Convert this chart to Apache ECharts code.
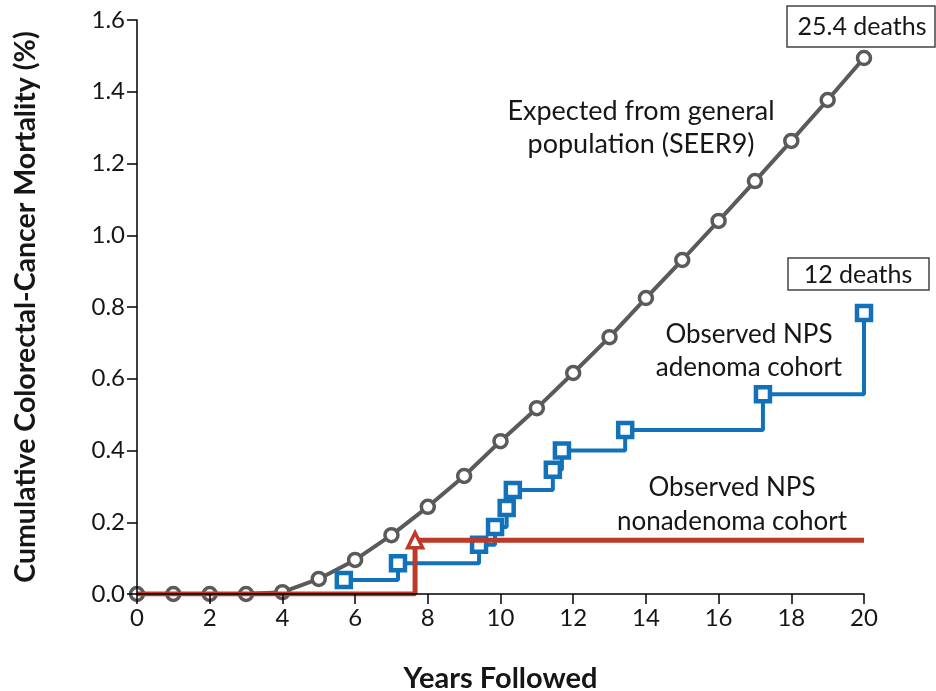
<!DOCTYPE html>
<html>
<head>
<meta charset="utf-8">
<script src="https://cdn.jsdelivr.net/npm/echarts@6/dist/echarts.min.js"></script>
<style>
html,body{margin:0;padding:0;background:#fff;}
#chart{width:936px;height:691px;}
</style>
</head>
<body>
<div id="chart"></div>
<script>
// ---- data ----
const expectedYears = [0,1,2,3,4,5,6,7,8,9,10,11,12,13,14,15,16,17,18,19,20];
const expectedMortality = [0,0,0,0,0.005,0.042,0.095,0.164,0.243,0.329,0.426,0.518,0.616,0.716,0.825,0.931,1.040,1.151,1.263,1.377,1.494];
const adenomaYears = [5.69,7.18,9.41,9.85,10.17,10.34,11.44,11.69,13.43,17.22,20];
const adenomaMortality = [0.039,0.086,0.137,0.187,0.24,0.29,0.346,0.40,0.457,0.557,0.783];
const nonadenomaYears = [0,7.65,20];
const nonadenomaMortality = [0,0.15,0.15];
const nonadenomaMarked = [false,true,false];
const xTicks = [0,2,4,6,8,10,12,14,16,18,20];
const yTicks = [0,0.2,0.4,0.6,0.8,1.0,1.2,1.4,1.6];
const labels = {
  expected: 'Expected from general\npopulation (SEER9)',
  adenoma: 'Observed NPS\nadenoma cohort',
  nonadenoma: 'Observed NPS\nnonadenoma cohort',
  expectedDeaths: '25.4 deaths',
  adenomaDeaths: '12 deaths'
};
const xName = 'Years Followed';
const yName = 'Cumulative Colorectal-Cancer Mortality (%)';

// ---- styles ----
const FONT = 'Lato, "Open Sans", sans-serif';
const GRAY = '#5a5a5a', BLUE = '#1272b9', RED = '#bd3a28', TXT = '#161616';

const chart = echarts.init(document.getElementById('chart'));
const zip = (xs, ys) => xs.map((x,i)=>[x, ys[i]]);

const option = {
  animation: false,
  backgroundColor: '#fff',
  grid: {left:137, right:72, top:20, bottom:97, containLabel:false, outerBoundsMode:'none'},
  xAxis: {
    type:'value', min:xTicks[0], max:xTicks[xTicks.length-1], interval:2,
    z: 6,
    name: xName, nameLocation:'middle', nameGap:70,
    nameTextStyle:{fontFamily:FONT, fontWeight:'bold', fontSize:29, color:TXT},
    axisLine:{show:true, lineStyle:{color:'#000', width:1.5}},
    axisTick:{show:true, length:10, lineStyle:{color:'#000', width:1.5}},
    axisLabel:{fontFamily:FONT, fontSize:24, color:TXT, margin:12},
    splitLine:{show:false}
  },
  yAxis: {
    type:'value', min:yTicks[0], max:yTicks[yTicks.length-1], interval:0.2,
    z: 6,
    name: yName, nameLocation:'middle', nameGap:97, nameRotate:90,
    nameTextStyle:{fontFamily:FONT, fontWeight:'bold', fontSize:28.5, color:TXT},
    axisLine:{show:true, lineStyle:{color:'#000', width:1.5}},
    axisTick:{show:true, length:10, lineStyle:{color:'#000', width:1.5}},
    axisLabel:{fontFamily:FONT, fontSize:24, color:TXT, margin:12, formatter:v=>v.toFixed(1)},
    splitLine:{show:false}
  },
  series: [
    {
      type:'line', name:'expected', data: zip(expectedYears, expectedMortality),
      symbol:'circle', symbolSize:13, z:2,
      lineStyle:{color:GRAY, width:4},
      itemStyle:{color:'#fff', borderColor:GRAY, borderWidth:3.5}
    },
    {
      type:'line', name:'adenoma', step:'end', z:3,
      data: zip(adenomaYears, adenomaMortality),
      symbol:'rect', symbolSize:14,
      lineStyle:{color:BLUE, width:4},
      itemStyle:{color:'#fff', borderColor:BLUE, borderWidth:4.5}
    },
    {
      type:'line', name:'nonadenoma', step:'end', z:4,
      data: zip(nonadenomaYears, nonadenomaMortality).map((p,i)=>({
        value:p, symbol: nonadenomaMarked[i] ? 'triangle' : 'none'
      })),
      symbolSize:15,
      lineStyle:{color:RED, width:5},
      itemStyle:{color:'#fff', borderColor:RED, borderWidth:3.5}
    }
  ],
  graphic: [
    {type:'text', x:641, y:128, z:10, style:{text:labels.expected, font:'27px '+FONT, fill:TXT, textAlign:'center', textVerticalAlign:'middle', lineHeight:33}},
    {type:'text', x:749, y:351, z:10, style:{text:labels.adenoma, font:'26px '+FONT, fill:TXT, textAlign:'center', textVerticalAlign:'middle', lineHeight:33}},
    {type:'text', x:732, y:505, z:10, style:{text:labels.nonadenoma, font:'26px '+FONT, fill:TXT, textAlign:'center', textVerticalAlign:'middle', lineHeight:34}},
    {type:'rect', z:10, shape:{x:787, y:6, width:148, height:41}, style:{fill:'#fff', stroke:'#444', lineWidth:1.5}},
    {type:'text', x:862, y:27, z:11, style:{text:labels.expectedDeaths, font:'25px '+FONT, fill:TXT, textAlign:'center', textVerticalAlign:'middle'}},
    {type:'rect', z:10, shape:{x:788, y:258, width:141, height:32}, style:{fill:'#fff', stroke:'#444', lineWidth:1.5}},
    {type:'text', x:858, y:275, z:11, style:{text:labels.adenomaDeaths, font:'25px '+FONT, fill:TXT, textAlign:'center', textVerticalAlign:'middle'}}
  ]
};
chart.setOption(option);
</script>
</body>
</html>
